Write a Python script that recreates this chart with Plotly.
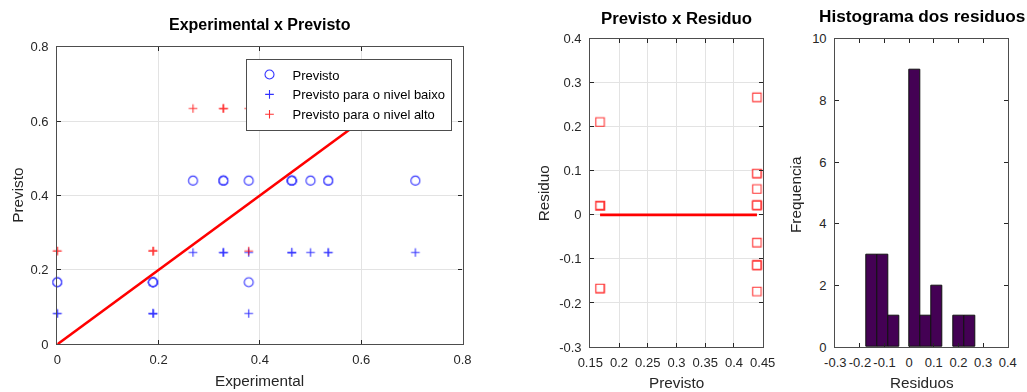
import numpy as np
import plotly.graph_objects as go

# ---- dados (uma entrada por ensaio) ----
experimental = [0.000, 0.000, 0.189, 0.189, 0.189, 0.189, 0.189, 0.378,
                0.268, 0.328, 0.328, 0.328, 0.378, 0.463, 0.463, 0.463,
                0.463, 0.500, 0.535, 0.535, 0.707]
previsto = [0.167, 0.167, 0.167, 0.167, 0.167, 0.167, 0.167, 0.167,
            0.440, 0.440, 0.440, 0.440, 0.440, 0.440, 0.440, 0.440,
            0.440, 0.440, 0.440, 0.440, 0.440]
previsto_baixo = [0.083, 0.083, 0.083, 0.083, 0.083, 0.083, 0.083, 0.083,
                  0.247, 0.247, 0.247, 0.247, 0.247, 0.247, 0.247, 0.247,
                  0.247, 0.247, 0.247, 0.247, 0.247]
previsto_alto = [0.251, 0.251, 0.251, 0.251, 0.251, 0.251, 0.251, 0.251,
                 0.634, 0.634, 0.634, 0.634, 0.634, 0.634, 0.634, 0.634,
                 0.634, 0.634, 0.634, 0.634, 0.634]
residuos = [-0.167, -0.167, 0.021, 0.021, 0.021, 0.021, 0.021, 0.211,
            -0.174, -0.114, -0.114, -0.114, -0.063, 0.022, 0.022, 0.022,
            0.022, 0.059, 0.094, 0.094, 0.267]

# ---- rótulos dos eixos ----
ticks_exp = [0, 0.2, 0.4, 0.6, 0.8]
ticks_exp_txt = ["0", "0.2", "0.4", "0.6", "0.8"]
ticks_prev = [0.15, 0.2, 0.25, 0.3, 0.35, 0.4, 0.45]
ticks_prev_txt = ["0.15", "0.2", "0.25", "0.3", "0.35", "0.4", "0.45"]
ticks_res = [-0.3, -0.2, -0.1, 0, 0.1, 0.2, 0.3, 0.4]
ticks_res_txt = ["-0.3", "-0.2", "-0.1", "0", "0.1", "0.2", "0.3", "0.4"]
ticks_freq = [0, 2, 4, 6, 8, 10]
ticks_freq_txt = ["0", "2", "4", "6", "8", "10"]

W, H = 1027, 392
FONT = "Liberation Sans"
AX = "#262626"
BOX = "#4d4d4d"
GRID = "#e3e3e3"


def px_x(p):
    return p / W


def px_y(p):
    return 1 - p / H


# histograma com 10 classes entre o mínimo e o máximo
contagem, bordas = np.histogram(residuos, bins=10)
centros = (bordas[:-1] + bordas[1:]) / 2
larguras = np.diff(bordas)
contorno = [1 if c > 0 else 0 for c in contagem]

fig = go.Figure()

# --- Experimental x Previsto ---
fig.add_trace(go.Scatter(
    x=experimental, y=previsto, mode="markers", name="Previsto",
    marker=dict(symbol="circle-open", size=9, color="#0000ff",
                line=dict(width=1.1)),
    opacity=0.8, cliponaxis=False, xaxis="x", yaxis="y"))
fig.add_trace(go.Scatter(
    x=experimental, y=previsto_baixo, mode="markers",
    name="Previsto para o nivel baixo",
    marker=dict(symbol="cross-thin-open", size=6.2, color="#0000ff",
                line=dict(width=1.1, color="#0000ff")),
    opacity=0.8, cliponaxis=False, xaxis="x", yaxis="y"))
fig.add_trace(go.Scatter(
    x=experimental, y=previsto_alto, mode="markers",
    name="Previsto para o nivel alto",
    marker=dict(symbol="cross-thin-open", size=6.2, color="#ff0000",
                line=dict(width=1.1, color="#ff0000")),
    opacity=0.8, cliponaxis=False, xaxis="x", yaxis="y"))
fig.add_trace(go.Scatter(
    x=[min(experimental), max(experimental)],
    y=[min(experimental), max(experimental)],
    mode="lines", line=dict(color="#ff0000", width=2.6),
    showlegend=False, xaxis="x", yaxis="y"))

# --- Previsto x Residuo ---
fig.add_trace(go.Scatter(
    x=previsto, y=residuos, mode="markers",
    marker=dict(symbol="square-open", size=8.5, color="#ff0000",
                line=dict(width=1.1)),
    opacity=0.8, cliponaxis=False, showlegend=False,
    xaxis="x2", yaxis="y2"))
fig.add_trace(go.Scatter(
    x=[min(previsto), max(previsto)], y=[0, 0], mode="lines",
    line=dict(color="#ff0000", width=2.6),
    showlegend=False, xaxis="x2", yaxis="y2"))

# --- Histograma dos residuos ---
fig.add_trace(go.Bar(
    x=centros, y=contagem, width=larguras,
    marker=dict(color="#440154", line=dict(color="#111111", width=contorno)),
    showlegend=False, xaxis="x3", yaxis="y3"))


def eixo(dom, rng, vals, txt, grid, anchor, standoff):
    return dict(domain=dom, range=rng, tickvals=vals, ticktext=txt,
                showgrid=grid, gridcolor=GRID, gridwidth=1,
                zeroline=False, showline=True, linecolor=BOX,
                linewidth=1.2, mirror="ticks", ticks="inside", ticklen=4,
                tickwidth=1, tickcolor=AX, tickangle=0, automargin=False,
                tickfont=dict(family=FONT, size=13, color=AX),
                anchor=anchor, ticklabelstandoff=standoff, fixedrange=True)


layout = dict(
    width=W, height=H, margin=dict(l=0, r=0, t=0, b=0, autoexpand=False),
    paper_bgcolor="white", plot_bgcolor="white",
    showlegend=True,
    legend=dict(x=px_x(245.5), y=px_y(58.5), xanchor="left", yanchor="top",
                bgcolor="white", bordercolor=BOX, borderwidth=1,
                font=dict(family=FONT, size=13, color="#000000"),
                itemwidth=36, tracegroupgap=0),
    xaxis=eixo([px_x(57.3), px_x(462.5)], [0, 0.8], ticks_exp,
               ticks_exp_txt, True, "y", 3),
    yaxis=eixo([px_y(344.3), px_y(46.7)], [0, 0.8], ticks_exp,
               ticks_exp_txt, True, "x", 5),
    xaxis2=eixo([px_x(590.3), px_x(762.7)], [0.15, 0.45], ticks_prev,
                ticks_prev_txt, True, "y2", 3),
    yaxis2=eixo([px_y(347), px_y(38.7)], [-0.3, 0.4], ticks_res,
                ticks_res_txt, True, "x2", 5),
    xaxis3=eixo([px_x(835.3), px_x(1007.7)], [-0.3, 0.4], ticks_res,
                ticks_res_txt, False, "y3", 3),
    yaxis3=eixo([px_y(347), px_y(38.7)], [0, 10], ticks_freq,
                ticks_freq_txt, False, "x3", 5),
    bargap=0,
)
fig.update_layout(**layout)

# títulos e rótulos dos eixos
textos = [
    ("<b>Experimental x Previsto</b>", 259.9, 24.5, 16, 0, "#000000"),
    ("<b>Previsto x Residuo</b>", 676.5, 18.5, 16.8, 0, "#000000"),
    ("<b>Histograma dos residuos</b>", 921.5, 16.5, 17.2, 0, "#000000"),
    ("Experimental", 259.9, 380, 15.3, 0, AX),
    ("Previsto", 17.3, 195.5, 15.3, -90, AX),
    ("Previsto", 676.5, 382.7, 15.3, 0, AX),
    ("Residuo", 543.3, 193, 15.3, -90, AX),
    ("Residuos", 921.5, 382, 15.3, 0, AX),
    ("Frequencia", 795, 195, 15.3, -90, AX),
]
for txt, cx, cy, size, ang, cor in textos:
    fig.add_annotation(text=txt, x=px_x(cx), y=px_y(cy), xref="paper",
                       yref="paper", xanchor="center", yanchor="middle",
                       showarrow=False, textangle=ang,
                       font=dict(family=FONT, size=size, color=cor))

fig.write_html("out.html")
